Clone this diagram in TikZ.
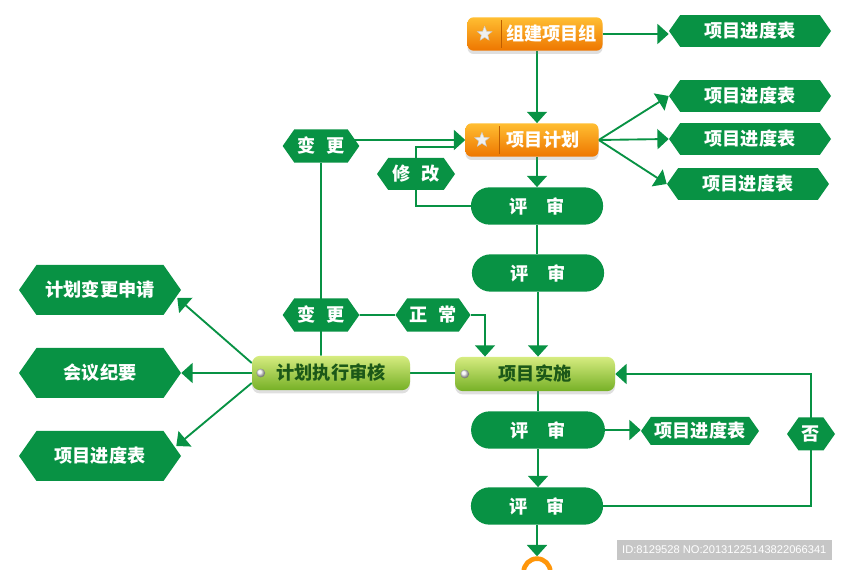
\documentclass[tikz,border=0pt]{standalone}
\usepackage{fontspec}
\newfontfamily\cjk{Noto Sans CJK SC}
\newfontfamily\idfont{Liberation Sans}
\usepackage{tikz}
\usetikzlibrary{shapes.symbols,shapes.misc,shapes.geometric,arrows.meta,backgrounds,shadows}
\definecolor{flowgreen}{RGB}{8,146,68}
\definecolor{orangetop}{RGB}{255,190,50}
\definecolor{orangemid}{RGB}{255,150,10}
\definecolor{orangebot}{RGB}{238,118,0}
\definecolor{limetop}{RGB}{214,236,128}
\definecolor{limemid}{RGB}{165,208,62}
\definecolor{limebot}{RGB}{118,176,38}
\definecolor{limetext}{RGB}{28,88,24}

\begin{document}
\begin{tikzpicture}[
        font=\cjk\bfseries\fontsize{15.5}{18}\selectfont,
        hexbox/.style={signal, signal to=west and east, signal pointer angle=110, fill=flowgreen, text=white, inner sep=1pt, minimum width=2.3cm, minimum height=1cm},
        hexwide/.style={hexbox, minimum width=4.86cm, minimum height=0.95cm},
        hexbig/.style={hexbox, minimum width=4.86cm, minimum height=1.5cm},
        pillbox/.style={rounded rectangle, fill=flowgreen, text=white, minimum width=4.2cm, minimum height=1.12cm},
        orangebox/.style={rectangle, rounded corners=0.18cm, top color=orangetop, middle color=orangemid, bottom color=orangebot, minimum height=1cm, drop shadow={opacity=0.25, shadow xshift=0cm, shadow yshift=-0.1cm}},
        limebox/.style={rectangle, rounded corners=0.24cm, top color=limetop, middle color=limemid, bottom color=limebot, text=limetext, minimum height=1.03cm, drop shadow={opacity=0.25, shadow xshift=0cm, shadow yshift=-0.1cm}},
        starmark/.style={star, star points=5, star point ratio=2.3, fill=gray!12, draw=gray!40, thin, inner sep=0pt, minimum size=0.46cm},
        bullet/.style={circle, inner sep=0pt, minimum size=0.26cm, ball color=gray!10},
        arrow/.style={-{Triangle[width=0.6cm,length=0.34cm]}, flowgreen, line width=1.6pt},
        link/.style={flowgreen, line width=1.6pt}
    ]
        \useasboundingbox (0,0) rectangle (25.44,17.1);

        % Top: project team and plan
        \node[orangebox, minimum width=4.05cm] (org) at (16.05,16.08) {};
        \node[starmark] (orgstar) at ([xshift=0.52cm]org.west) {};
        \node[text=white] (orgtxt) at ([xshift=0.5cm]org.center) {组建项目组};
        \draw[orangebot!80!black, thin] ([xshift=1.02cm,yshift=-0.1cm]org.north west) -- ([xshift=1.02cm,yshift=0.1cm]org.south west);

        \node[orangebox, minimum width=3.99cm] (plan) at (15.96,12.9) {};
        \node[starmark] (planstar) at ([xshift=0.5cm]plan.west) {};
        \node[text=white] (plantxt) at ([xshift=0.33cm]plan.center) {项目计划};
        \draw[orangebot!80!black, thin] ([xshift=1.02cm,yshift=-0.1cm]plan.north west) -- ([xshift=1.02cm,yshift=0.1cm]plan.south west);

        % Schedules on the right
        \node[hexwide] (sched1) at (22.5,16.17) {项目进度表};
        \node[hexwide] (sched2) at (22.5,14.22) {项目进度表};
        \node[hexwide] (sched3) at (22.5,12.93) {项目进度表};
        \node[hexwide] (sched4) at (22.44,11.58) {项目进度表};

        % Change and review loop
        \node[hexbox] (chgA) at (9.63,12.72) {变\hspace{0.6em}更};
        \node[hexbox, minimum width=2.34cm, minimum height=0.96cm] (modify) at (12.48,11.88) {修\hspace{0.6em}改};
        \node[pillbox] (rev1) at (16.11,10.92) {评\hspace{1em}审};
        \node[pillbox] (rev2) at (16.14,8.91) {评\hspace{1em}审};
        \node[hexbox] (chgB) at (9.63,7.65) {变\hspace{0.6em}更};
        \node[hexbox, minimum width=2.25cm] (normal) at (12.99,7.65) {正\hspace{0.6em}常};

        % Audit outputs
        \node[hexbig] (req) at (3.0,8.4) {计划变更申请};
        \node[hexbig] (meet) at (3.0,5.91) {会议纪要};
        \node[hexbig] (schedL) at (3.0,3.42) {项目进度表};

        % Audit and implementation
        \node[limebox, minimum width=4.74cm] (audit) at (9.93,5.91) {计划执行审核};
        \node[bullet] (auditdot) at ([xshift=0.27cm]audit.west) {};
        \node[limebox, minimum width=4.8cm] (impl) at (16.05,5.88) {项目实施};
        \node[bullet] (impldot) at ([xshift=0.3cm]impl.west) {};

        % Lower reviews
        \node[pillbox, minimum width=4.25cm] (rev3) at (16.14,4.2) {评\hspace{1em}审};
        \node[hexbox, minimum width=3.54cm, minimum height=0.84cm] (schedS) at (21.0,4.17) {项目进度表};
        \node[hexbox, minimum width=1.44cm, minimum height=0.99cm] (no) at (24.33,4.08) {否};
        \node[pillbox] (rev4) at (16.11,1.92) {评\hspace{1em}审};
        \node[circle, draw=orangemid, line width=4pt, fill=white, minimum size=0.8cm] (endring) at (16.11,-0.06) {};

        % Watermark
        \node[fill=gray!45, text=white, font=\idfont\fontsize{9.5}{11}\selectfont, minimum width=6.45cm, minimum height=0.6cm] (idmark) at (21.73,0.6) {ID:8129528 NO:20131225143822066341};

        % Arrows
        \begin{scope}[on background layer]
        \draw[arrow] (org.east) -- (org.east -| sched1.west);
        \draw[arrow] (org.south -| rev1) -- (plan.north -| rev1);
        \draw[arrow] (plan.east) -- (sched2.west);
        \draw[arrow] (plan.east) -- (sched3.west);
        \draw[arrow] (plan.east) -- (sched4.west);
        \draw[arrow] (plan.south -| rev1) -- (rev1.north);
        \draw[arrow] (chgA |- plan.west) -- (plan.west);
        \draw[link] (rev1.west) -| (modify.center) |- ([xshift=-0.3cm,yshift=-0.21cm]plan.west);
        \draw[link] (rev1.south) -- (rev1.south |- rev2.north);
        \draw[arrow] (rev2.south) -- (rev2.south |- impl.north);
        \draw[link] (chgA) -- (chgB |- audit.north);
        \draw[link] (chgB) -- (normal);
        \draw[arrow] (normal.east) -| ([xshift=-1.5cm]impl.north);
        \draw[arrow] ([yshift=0.3cm]audit.west) -- ([xshift=-0.12cm,yshift=-0.24cm]req.east);
        \draw[arrow] (audit.west) -- (meet.east);
        \draw[arrow] ([yshift=-0.3cm]audit.west) -- ([xshift=-0.15cm,yshift=0.3cm]schedL.east);
        \draw[link] (audit.east) -- (audit.east -| impl.west);
        \draw[link] (impl.south -| rev3) -- (rev3.north);
        \draw[arrow] (rev3.east) -- (rev3.east -| schedS.west);
        \draw[arrow] (rev3.south) -- (rev3.south |- rev4.north);
        \draw[arrow] (rev4.east) -| (no.center) |- (impl.east);
        \draw[arrow] (rev4.south) -- (endring.north);
        \end{scope}
    \end{tikzpicture}
\end{document}
